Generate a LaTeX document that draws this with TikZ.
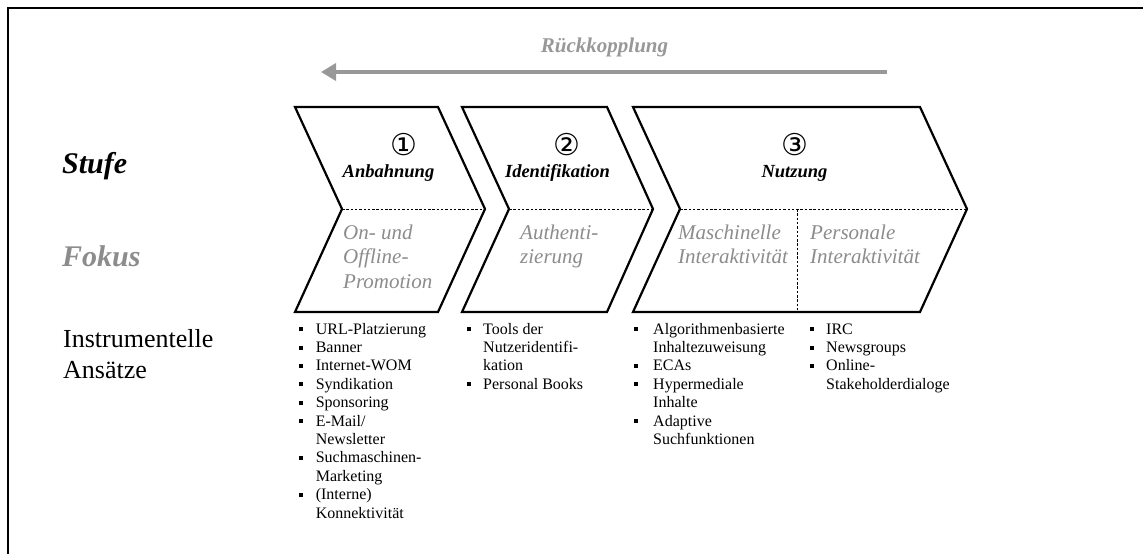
\documentclass[tikz,border=0pt]{standalone}
\usepackage{fontspec}
\setmainfont{Liberation Serif}
\newfontfamily\symfont{DejaVu Sans}
\usetikzlibrary{arrows.meta}
\definecolor{focusgray}{RGB}{140,140,140}
\definecolor{loopgray}{RGB}{152,152,152}
% small square list bullet
\newcommand\sqbullet{\rule[3pt]{3.6pt}{4pt}}

\begin{document}
\begin{tikzpicture}[x=1pt,y=-1pt,
  chev/.style={draw=black,line width=2.2pt,line join=miter},
  divider/.style={draw=black,line width=0.8pt,dash pattern=on 2.5pt off 1.8pt},
  rowlabel/.style={anchor=base west,inner sep=0pt,font=\fontsize{30}{34}\selectfont\bfseries\itshape},
  stagenum/.style={inner sep=0pt,font=\fontsize{30}{32}\selectfont\symfont},
  stagename/.style={anchor=base,inner sep=0pt,font=\fontsize{18.5}{22}\selectfont\bfseries\itshape},
  focustext/.style={anchor=north west,inner sep=0pt,text=focusgray,font=\fontsize{21}{24.5}\selectfont\itshape},
  itemlist/.style={anchor=north west,inner sep=0pt,font=\fontsize{16}{18.4}\selectfont},
]
\useasboundingbox (0,0) rectangle (1143,554);

% frame (top and left edges)
\draw[line width=2pt] (7.5,560) -- (7.5,7.5) -- (1150,7.5);

% feedback arrow
\node[anchor=base,inner sep=0pt,text=loopgray,font=\fontsize{21}{24}\selectfont\bfseries\itshape]
  (loop) at (604.5,52) {Rückkopplung};
\coordinate (loopStart) at (887,72);
\coordinate (loopEnd) at (321,72);
\draw[loopgray,line width=3.6pt,-{Triangle[length=15pt,width=17pt]}] (loopStart) -- (loopEnd);

% row labels
\node[rowlabel] (stufe) at (62,173) {Stufe};
\node[rowlabel,text=focusgray] (fokus) at (62,266) {Fokus};
\node[anchor=north west,inner sep=0pt,font=\fontsize{26}{31}\selectfont] (ansatz) at (63,325.3)
  {\begin{tabular}{@{}l@{}}Instrumentelle\\Ansätze\end{tabular}};

% chevrons: left, notch, right, tip
\draw[chev] (295,107) -- (438,107) -- (485,209) -- (438,312) -- (295,312) -- (342,209) -- cycle;
\draw[chev] (462,107) -- (607,107) -- (653,209) -- (607,312) -- (462,312) -- (509,209) -- cycle;
\draw[chev] (633,107) -- (920,107) -- (967,209) -- (920,312) -- (633,312) -- (680,209) -- cycle;

% dashed dividers
\draw[divider] (342,209) -- (485,209);
\draw[divider] (509,209) -- (653,209);
\draw[divider] (680,209) -- (967,209);
\draw[divider] (797,209) -- (797,312);

% stage headings
\node[stagenum] (n1) at (404,145) {①};
\node[stagenum] (n2) at (567,145) {②};
\node[stagenum] (n3) at (795,145) {③};
\node[stagename] (s1) at (388.5,177) {Anbahnung};
\node[stagename] (s2) at (557.5,177) {Identifikation};
\node[stagename] (s3) at (794.5,177) {Nutzung};

% focus texts
\node[focustext] (f1) at (343,221.9)
  {\begin{tabular}{@{}l@{}}On- und\\Offline-\\Promotion\end{tabular}};
\node[focustext] (f2) at (520,221.9)
  {\begin{tabular}{@{}l@{}}Authenti-\\zierung\end{tabular}};
\node[focustext] (f3) at (678,221.9)
  {\begin{tabular}{@{}l@{}}Maschinelle\\Interaktivität\end{tabular}};
\node[focustext] (f4) at (810,221.9)
  {\begin{tabular}{@{}l@{}}Personale\\Interaktivität\end{tabular}};

% instrument lists
\node[itemlist] (l1) at (299,321.1)
  {\begin{tabular}{@{}l@{\hspace{13pt}}l@{}}
   \sqbullet & URL-Platzierung\\
   \sqbullet & Banner\\
   \sqbullet & Internet-WOM\\
   \sqbullet & Syndikation\\
   \sqbullet & Sponsoring\\
   \sqbullet & E-Mail/\\
             & Newsletter\\
   \sqbullet & Suchmaschinen-\\
             & Marketing\\
   \sqbullet & (Interne)\\
             & Konnektivität
   \end{tabular}};
\node[itemlist] (l2) at (467,321.1)
  {\begin{tabular}{@{}l@{\hspace{12.4pt}}l@{}}
   \sqbullet & Tools der\\
             & Nutzeridentifi-\\
             & kation\\
   \sqbullet & Personal Books
   \end{tabular}};
\node[itemlist] (l3) at (634,321.1)
  {\begin{tabular}{@{}l@{\hspace{15.4pt}}l@{}}
   \sqbullet & Algorithmenbasierte\\
             & Inhaltezuweisung\\
   \sqbullet & ECAs\\
   \sqbullet & Hypermediale\\
             & Inhalte\\
   \sqbullet & Adaptive\\
             & Suchfunktionen
   \end{tabular}};
\node[itemlist] (l4) at (810,321.1)
  {\begin{tabular}{@{}l@{\hspace{12.4pt}}l@{}}
   \sqbullet & IRC\\
   \sqbullet & Newsgroups\\
   \sqbullet & Online-\\
             & Stakeholderdialoge
   \end{tabular}};
\end{tikzpicture}
\end{document}
